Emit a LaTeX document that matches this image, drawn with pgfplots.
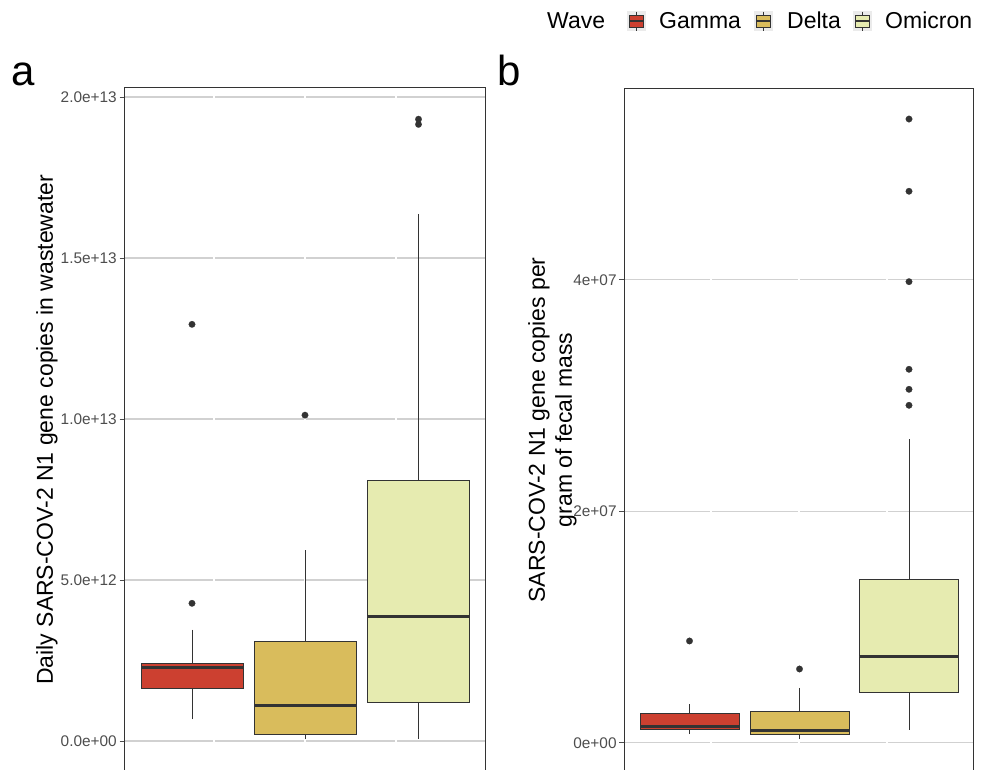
\documentclass[border=0pt]{standalone}
\usepackage{fontspec}
\setmainfont{Liberation Sans}
\usepackage{pgfplots}
\pgfplotsset{compat=1.18}
\usepgfplotslibrary{statistics}
\definecolor{gammac}{RGB}{204,64,48}
\definecolor{deltac}{RGB}{217,188,92}
\definecolor{omic}{RGB}{230,235,176}
\definecolor{dk}{RGB}{51,51,51}
\definecolor{gridc}{RGB}{209,209,209}
\definecolor{tickc}{RGB}{77,77,77}
\definecolor{keybg}{RGB}{235,235,235}
\pgfplotsset{
  panel/.style={
    scale only axis, disabledatascaling,
    axis line style={dk, line width=0.9pt},
    tick align=outside, tick pos=left,
    major tick length=5pt,
    ytick style={tickc, line width=0.8pt},
    xtick=\empty,
    ymajorgrids, y grid style={gridc, line width=1.1pt},
    yticklabel style={font=\fontsize{15.4}{18}\selectfont, text=tickc, inner sep=0pt, xshift=-2.5pt},
    boxplot/draw direction=y,
    boxplot/whisker extend=0,
  },
  bx/.style={draw=dk, fill=#1, mark=*, mark size=3.3pt,
    mark options={fill=dk, draw=dk, line width=0.1pt},
    /pgfplots/boxplot/every box/.style={draw=dk, line width=1pt},
    /pgfplots/boxplot/every whisker/.style={draw=dk, line width=0.9pt},
    /pgfplots/boxplot/every median/.style={draw=dk, line width=3pt}},
}
\begin{document}
\begin{tikzpicture}
% ---------------- panel a ----------------
\begin{axis}[panel, at={(124.5pt,-87.5pt)}, anchor=north west,
  width=361pt, height=684.5pt,
  xmin=0, xmax=3.61, ymin=-0.963, ymax=20.295,
  ytick={0,5,10,15,20},
  yticklabels={0.0e+00,5.0e+12,1.0e+13,1.5e+13,2.0e+13},
  ylabel={Daily SARS-COV-2 N1 gene copies in wastewater},
  every axis y label/.style={at={(axis description cs:0,0.5)}, rotate=90, anchor=center, yshift=77.5pt, font=\fontsize{23}{27}\selectfont}]
\draw[white, line width=1.5pt] (axis cs:0.895,-0.963) -- (axis cs:0.895,20.2);
\draw[white, line width=1.5pt] (axis cs:1.805,-0.963) -- (axis cs:1.805,20.2);
\draw[white, line width=1.5pt] (axis cs:2.715,-0.963) -- (axis cs:2.715,20.2);
% values in units of 1e12
\addplot[boxplot prepared={draw position=0.675, lower whisker=0.674, lower quartile=1.624, median=2.276, upper quartile=2.422, upper whisker=3.457, box extend=1.02}, bx=gammac]
  table[row sep=\\, y index=0] {v\\ 4.276\\ 12.94\\};
\addplot[boxplot prepared={draw position=1.805, lower whisker=0.053, lower quartile=0.208, median=1.096, upper quartile=3.075, upper whisker=5.922, box extend=1.02}, bx=deltac]
  table[row sep=\\, y index=0] {v\\ 10.12\\};
\addplot[boxplot prepared={draw position=2.94, lower whisker=0.071, lower quartile=1.211, median=3.873, upper quartile=8.096, upper whisker=16.38, box extend=1.02}, bx=omic]
  table[row sep=\\, y index=0] {v\\ 19.15\\ 19.31\\};
\end{axis}
% ---------------- panel b ----------------
\begin{axis}[panel, at={(624.3pt,-88pt)}, anchor=north west,
  width=349.4pt, height=684pt,
  xmin=0, xmax=3.494, ymin=-2.53, ymax=56.56,
  ytick={0,20,40},
  yticklabels={0e+00,2e+07,4e+07},
  ylabel={SARS-COV-2 N1 gene copies per\\gram of fecal mass},
  every axis y label/.style={at={(axis description cs:0,0.5)}, rotate=90, anchor=center, align=center, yshift=72pt, font=\fontsize{23}{27}\selectfont}]
\draw[white, line width=1.5pt] (axis cs:0.867,-2.53) -- (axis cs:0.867,56.3);
\draw[white, line width=1.5pt] (axis cs:1.747,-2.53) -- (axis cs:1.747,56.3);
\draw[white, line width=1.5pt] (axis cs:2.627,-2.53) -- (axis cs:2.627,56.3);
% values in units of 1e6
\addplot[boxplot prepared={draw position=0.652, lower whisker=0.75, lower quartile=1.16, median=1.38, upper quartile=2.54, upper whisker=3.32, box extend=0.99}, bx=gammac]
  table[row sep=\\, y index=0] {v\\ 8.79\\};
\addplot[boxplot prepared={draw position=1.752, lower whisker=0.29, lower quartile=0.69, median=1.04, upper quartile=2.71, upper whisker=4.75, box extend=0.99}, bx=deltac]
  table[row sep=\\, y index=0] {v\\ 6.37\\};
\addplot[boxplot prepared={draw position=2.847, lower whisker=1.10, lower quartile=4.35, median=7.49, upper quartile=14.06, upper whisker=26.21, box extend=0.99}, bx=omic]
  table[row sep=\\, y index=0] {v\\ 29.15\\ 30.53\\ 32.26\\ 39.83\\ 47.64\\ 53.88\\};
\end{axis}
% ---------------- panel tags ----------------
\node[anchor=base west, inner sep=0pt, font=\fontsize{42}{48}\selectfont] at (11.5pt,-85pt) {a};
\node[anchor=base west, inner sep=0pt, font=\fontsize{42}{48}\selectfont] at (497pt,-85pt) {b};
% ---------------- legend ----------------
\node[anchor=base west, inner sep=0pt, font=\fontsize{23}{27}\selectfont] at (547pt,-28.5pt) {Wave};
\foreach \x/\c in {627/gammac,754/deltac,853/omic}{
  \fill[keybg] (\x pt,-11pt) rectangle (\x pt+19pt,-31pt);
  \draw[dk, line width=0.8pt] (\x pt+9.5pt,-11.5pt) -- (\x pt+9.5pt,-30.5pt);
  \filldraw[fill=\c, draw=dk, line width=0.8pt] (\x pt+2.5pt,-15pt) rectangle (\x pt+16.5pt,-27pt);
  \draw[dk, line width=1.6pt] (\x pt+2.5pt,-21pt) -- (\x pt+16.5pt,-21pt);
}
\node[anchor=base west, inner sep=0pt, font=\fontsize{23}{27}\selectfont] at (659pt,-28.5pt) {Gamma};
\node[anchor=base west, inner sep=0pt, font=\fontsize{23}{27}\selectfont] at (787pt,-28.5pt) {Delta};
\node[anchor=base west, inner sep=0pt, font=\fontsize{23}{27}\selectfont] at (885pt,-28.5pt) {Omicron};
\pgfresetboundingbox
\useasboundingbox (0pt,0pt) rectangle (984pt,-769pt);
\end{tikzpicture}
\end{document}
